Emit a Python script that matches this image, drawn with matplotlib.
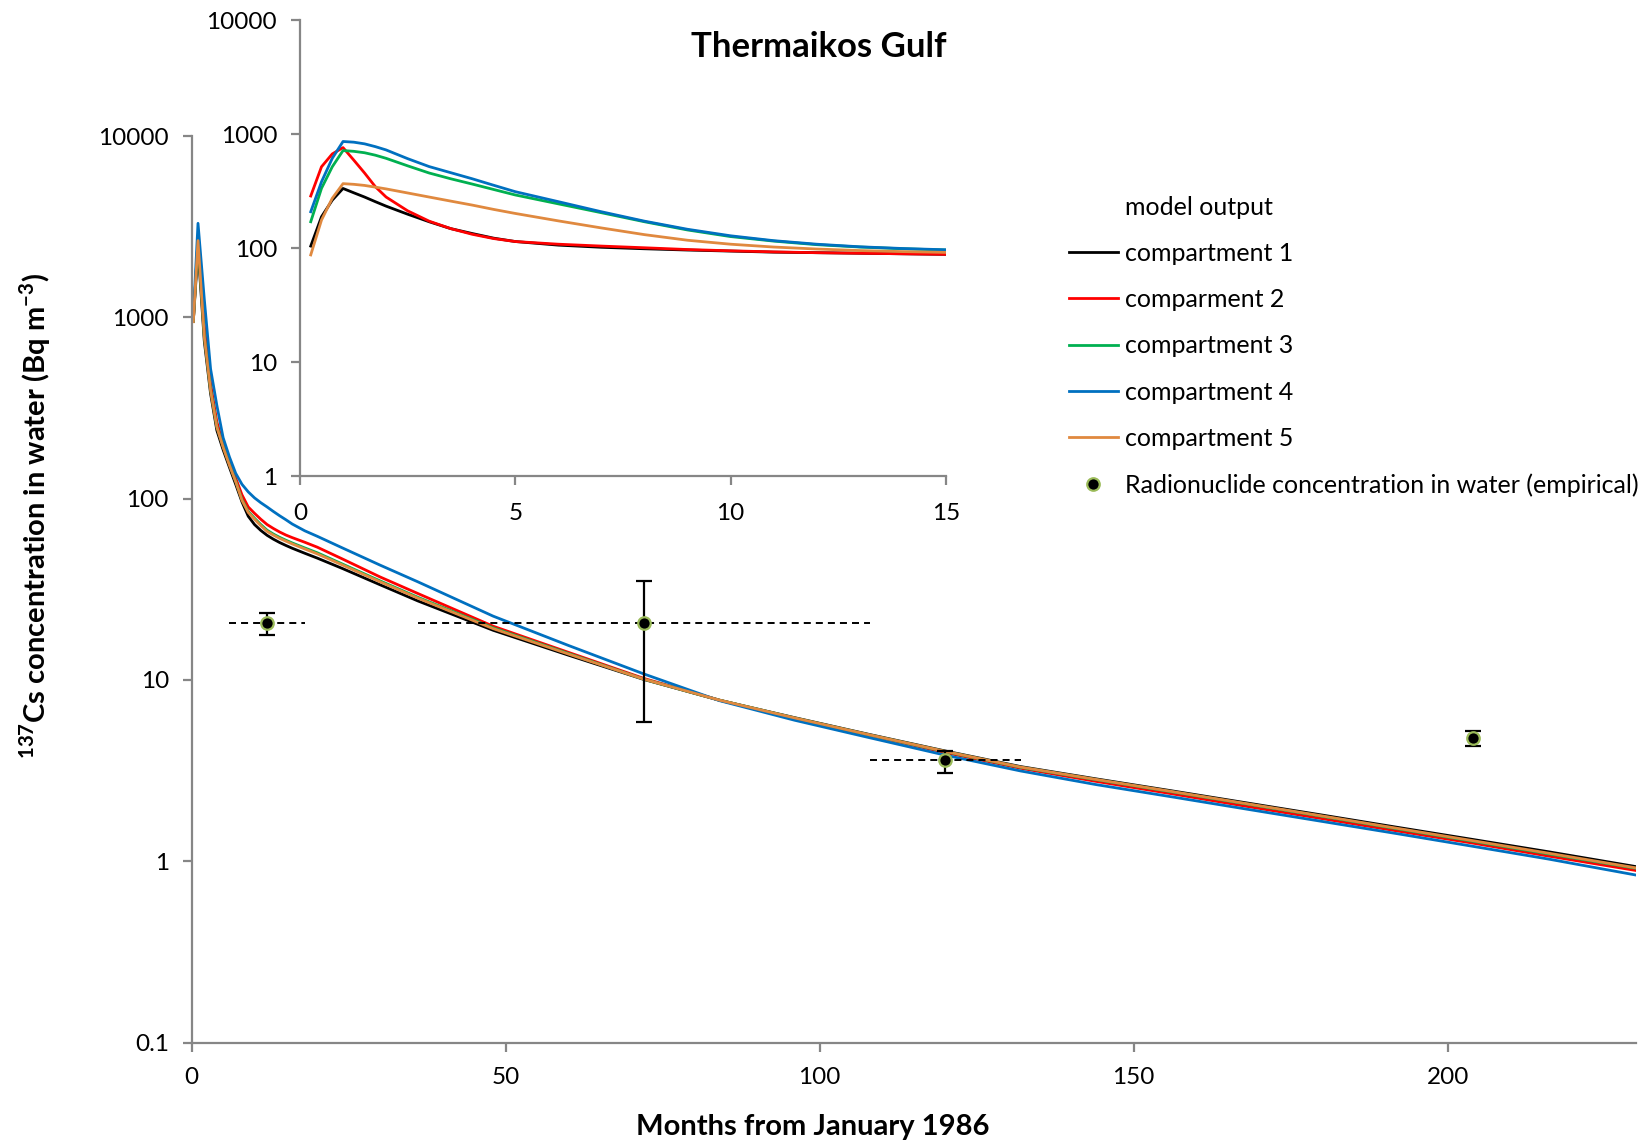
import matplotlib
matplotlib.use('Agg')
import matplotlib.pyplot as plt
from matplotlib.lines import Line2D
from matplotlib.ticker import NullLocator

# ---------------- data ----------------
main_months = [0.25, 1, 2, 3, 4, 5, 6, 7, 8, 9, 10, 11, 12, 13, 14, 15, 16, 18, 20, 24, 30, 36, 48, 60,
               72, 84, 96, 108, 120, 132, 144, 156, 168, 180, 192, 204, 216, 230]
main_c1 = [950, 2400, 740, 380, 238, 186, 149, 120, 96, 80, 72, 66.8, 62.8, 59.8, 57.3, 55.2, 53.3, 50, 47, 41.2,
           33.5, 27.3, 18.8, 13.7, 10.07, 7.74, 6.2, 5.0, 4.06, 3.33, 2.85, 2.45, 2.10, 1.80, 1.54, 1.32, 1.13, 0.935]
main_c2 = [950, 2700, 900, 430, 265, 200, 160, 130, 105, 90, 83, 77, 72, 68.5, 65.5, 63, 61, 57.5, 54, 46.5,
           37, 30, 19.8, 14.2, 10.2, 7.75, 6.1, 4.95, 3.98, 3.26, 2.76, 2.36, 2.01, 1.72, 1.47, 1.26, 1.07, 0.89]
main_c3 = [950, 2650, 790, 400, 250, 194, 155, 125, 99, 85, 78, 72, 67, 63.8, 61.2, 59, 57, 53.5, 50.3, 43.6,
           35.2, 28.6, 19.4, 14.0, 10.1, 7.75, 6.17, 4.97, 4.03, 3.3, 2.82, 2.42, 2.07, 1.77, 1.51, 1.29, 1.10, 0.915]
main_c4 = [1000, 3300, 1260, 520, 327, 217, 170, 138, 120, 109, 101, 95, 90, 85, 80.5, 76.5, 72.5, 66.5, 62, 53.5,
           43, 34.8, 22.5, 15.5, 10.8, 7.7, 6.0, 4.8, 3.85, 3.15, 2.65, 2.27, 1.94, 1.66, 1.42, 1.21, 1.03, 0.84]
main_c5 = [946, 2650, 780, 395, 248, 192, 153, 124, 98, 84, 77, 71, 66, 63, 60.4, 58.3, 56.3, 52.8, 49.6, 43.1,
           34.8, 28.3, 19.2, 13.9, 10.1, 7.75, 6.18, 4.98, 4.04, 3.31, 2.83, 2.43, 2.08, 1.78, 1.52, 1.30, 1.11, 0.92]

inset_months = [0.25, 0.5, 0.75, 1, 1.25, 1.5, 1.75, 2, 2.5, 3, 3.5, 4, 4.5, 5, 6, 7, 8, 9, 10, 11, 12, 13, 14, 15]
inset_c1 = [104, 188, 263, 333, 305, 280, 255, 233, 198, 170, 148, 134, 122, 114, 106, 101.5, 98.5, 96, 94, 92, 91, 90, 89, 88]
inset_c2 = [286, 516, 669, 760, 590, 455, 345, 280, 212, 172, 148, 132, 121, 114, 108, 104, 100.5, 97, 94.5, 92.5, 91, 90, 89, 88]
inset_c3 = [170, 334, 516, 716, 705, 685, 652, 612, 526, 455, 405, 364, 326, 292, 244, 204, 170, 144, 126, 115, 107, 102, 98.5, 96]
inset_c4 = [208, 381, 612, 860, 848, 820, 775, 725, 608, 518, 458, 405, 355, 312, 255, 208, 172, 146, 128, 116, 108, 102.5, 99, 96.5]
inset_c5 = [87, 176, 273, 367, 362, 354, 342, 330, 304, 280, 258, 238, 218, 201, 173, 150, 131, 117, 108, 102, 98, 95, 93, 91.5]

emp_months = [12, 72, 120, 204]
emp_values = [20.6, 20.6, 3.6, 4.8]
emp_low = [17.8, 5.9, 3.07, 4.3]
emp_high = [23.5, 35.2, 4.07, 5.26]
emp_month_err = [6, 36, 12, 0]

series_labels = ['compartment 1', 'comparment 2', 'compartment 3', 'compartment 4', 'compartment 5']
series_colors = ['#000000', '#FF0000', '#00B050', '#0070C0', '#E0893F']
main_yticks = [0.1, 1, 10, 100, 1000, 10000]
main_ytick_labels = ['0.1', '1', '10', '100', '1000', '10000']
main_xticks = [0, 50, 100, 150, 200]
inset_yticks = [1, 10, 100, 1000, 10000]
inset_ytick_labels = ['1', '10', '100', '1000', '10000']
inset_xticks = [0, 5, 10, 15]

# ---------------- style ----------------
plt.rcParams['font.family'] = ['Lato', 'DejaVu Sans']
plt.rcParams['mathtext.fontset'] = 'custom'
plt.rcParams['mathtext.rm'] = 'Lato'
plt.rcParams['mathtext.bf'] = 'Lato:bold'

TICK_FS = 17.5
LEG_FS = 18
GRAY = '#868686'

fig = plt.figure(figsize=(16.5, 11.44), dpi=100)
ax = fig.add_axes([0.1162, 0.0886, 0.8753, 0.7925])
axi = fig.add_axes([0.1818, 0.5839, 0.3915, 0.3986])
axi.set_facecolor('none')


def style(a, xpad, ypad):
    for s in ['top', 'right']:
        a.spines[s].set_visible(False)
    for s in ['left', 'bottom']:
        a.spines[s].set_color(GRAY)
        a.spines[s].set_linewidth(1.6)
    a.tick_params(axis='both', which='major', color=GRAY, width=1.6, length=6.5,
                  labelsize=TICK_FS, labelcolor='black', direction='out')
    a.tick_params(axis='x', pad=xpad)
    a.tick_params(axis='y', pad=ypad)


main_series = [main_c1, main_c2, main_c3, main_c4, main_c5]
inset_series = [inset_c1, inset_c2, inset_c3, inset_c4, inset_c5]

handles = [Line2D([], [], color='none', label='model output')]
for vals, lab, col in zip(main_series, series_labels, series_colors):
    ln, = ax.plot(main_months, vals, color=col, lw=2.0, label=lab, solid_joinstyle='round')
    handles.append(ln)
for vals, col in zip(inset_series, series_colors):
    axi.plot(inset_months, vals, color=col, lw=2.0, solid_joinstyle='round')

# empirical points
ylo = [v - l for v, l in zip(emp_values, emp_low)]
yhi = [h - v for v, h in zip(emp_values, emp_high)]
ax.errorbar(emp_months, emp_values, yerr=[ylo, yhi], fmt='none', ecolor='black',
            elinewidth=1.6, capsize=6, capthick=1.6, zorder=6)
xm = [m for m, e in zip(emp_months, emp_month_err) if e > 0]
xv = [v for v, e in zip(emp_values, emp_month_err) if e > 0]
xe = [e for e in emp_month_err if e > 0]
eb = ax.errorbar(xm, xv, xerr=xe, fmt='none', ecolor='black', elinewidth=1.4, capsize=0, zorder=5)
eb[2][0].set_linestyle((0, (3.6, 2.6)))
pts, = ax.plot(emp_months, emp_values, linestyle='none', marker='o', ms=9, mfc='black',
               mec='#9BBB59', mew=1.6, zorder=7,
               label='Radionuclide concentration in water (empirical)')
handles.append(pts)

# main axes
ax.set_yscale('log')
ax.set_xlim(0, 230)
ax.set_ylim(0.1, 10000)
ax.set_yticks(main_yticks)
ax.set_yticklabels(main_ytick_labels)
ax.yaxis.set_minor_locator(NullLocator())
ax.set_xticks(main_xticks)
ax.set_xticklabels([str(t) for t in main_xticks])
style(ax, 11, 10)

ax.set_xlabel('Months from January 1986', fontsize=21, fontweight='bold')
ax.xaxis.label.set_va('center')
ax.xaxis.set_label_coords(0.430, -0.093)
ax.set_ylabel(r'$^{\mathbf{137}}$Cs concentration in water (Bq m$^{\mathbf{-3}}$)',
              fontsize=21, fontweight='bold')
ax.yaxis.label.set_va('center')
ax.yaxis.set_label_coords(-0.1085, 0.581)

# inset axes
axi.set_yscale('log')
axi.set_xlim(0, 15)
axi.set_ylim(1, 10000)
axi.set_yticks(inset_yticks)
axi.set_yticklabels(inset_ytick_labels)
axi.yaxis.set_minor_locator(NullLocator())
axi.set_xticks(inset_xticks)
axi.set_xticklabels([str(t) for t in inset_xticks])
style(axi, 13, 10)

fig.text(0.4964, 0.9585, 'Thermaikos Gulf', fontsize=25, fontweight='bold',
         ha='center', va='center')

labels = [h.get_label() for h in handles]
fig.legend(handles, labels, loc='upper left', bbox_to_anchor=(1069 / 1650, 0.829),
           frameon=False, borderpad=0, borderaxespad=0, handlelength=1.95,
           handletextpad=0.28, labelspacing=0.93, fontsize=LEG_FS)

fig.savefig('out.png', dpi=100)
